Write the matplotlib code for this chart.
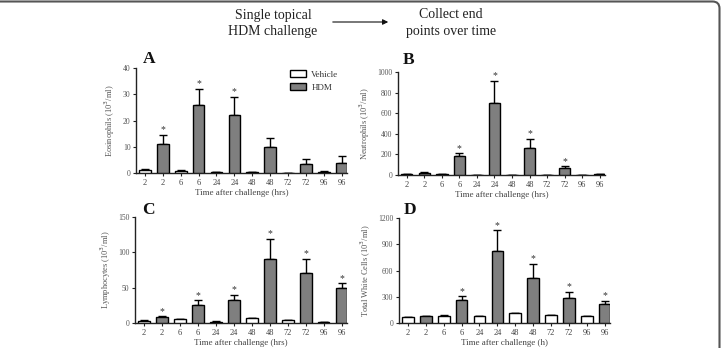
import numpy as np
import matplotlib
matplotlib.use('Agg')
import matplotlib.pyplot as plt
from matplotlib.patches import FancyBboxPatch, FancyArrowPatch, Patch
from matplotlib.transforms import IdentityTransform

plt.rcParams['font.family'] = ['Liberation Serif', 'DejaVu Serif']

# x tick labels: vehicle / HDM alternate at each time point
tick_labels = ['2', '2', '6', '6', '24', '24', '48', '48', '72', '72', '96', '96']
is_hdm = [False, True] * 6

# means and upper SEM for each bar (vehicle, HDM, vehicle, HDM ...)
eos_mean = [1.2, 11, 0.8, 26, 0.3, 22, 0.3, 9.8, 0, 3.5, 0.5, 4]
eos_err = [0.3, 3.5, 0.3, 6, 0.1, 7, 0.1, 3.5, 0, 1.8, 0.4, 2.5]
eos_star = [1, 3, 5]

neu_mean = [5, 20, 5, 180, 2, 700, 3, 260, 0, 65, 2, 10]
neu_err = [2, 6, 2, 30, 1, 215, 1, 90, 0, 20, 1, 3]
neu_star = [3, 5, 7, 9]

lym_mean = [3.5, 8, 5.5, 26, 2, 32, 6.5, 91, 4, 71, 1.5, 49]
lym_err = [0.5, 1.5, 0.8, 6, 0.3, 8, 1, 28, 0.6, 20, 0.3, 7]
lym_star = [1, 3, 5, 7, 9, 11]

wbc_mean = [65, 80, 80, 260, 75, 820, 110, 520, 90, 285, 80, 220]
wbc_err = [5, 5, 6, 45, 4, 240, 8, 160, 5, 75, 4, 30]
wbc_star = [3, 5, 7, 9, 11]

panels = [
    ('A', [136, 68, 347, 173], (0.033, 0.048), eos_mean, eos_err, eos_star, 40, [0, 10, 20, 30, 40],
     'Eosinophils (10$^3$/ml)', 'Time after challenge (hrs)'),
    ('B', [398, 72, 605, 175], (0.024, 0.078), neu_mean, neu_err, neu_star, 1000,
     [0, 200, 400, 600, 800, 1000], 'Neutrophils (10$^3$/ml)', 'Time after challenge (hrs)'),
    ('C', [135, 217, 347, 323], (0.033, 0.028), lym_mean, lym_err, lym_star, 150, [0, 50, 100, 150],
     'Lymphocytes (10$^3$/ml)', 'Time after challenge (hrs)'),
    ('D', [399, 218, 610, 323], (0.02, 0.038), wbc_mean, wbc_err, wbc_star, 1200,
     [0, 300, 600, 900, 1200], 'Total White Cells (10$^3$/ml)', 'Time after challenge (h)'),
]

W, H = 721, 348
fig = plt.figure(figsize=(W / 100, H / 100), dpi=100)

x = np.arange(12)
for letter, (x0, y0, x1, y1), lpos, mean, err, stars, ymax, yticks, ylab, xlab in panels:
    ax = fig.add_axes([x0 / W, 1 - y1 / H, (x1 - x0) / W, (y1 - y0) / H])
    colors = ['#7f7f7f' if h else 'white' for h in is_hdm]
    ax.bar(x, mean, width=0.65, color=colors, edgecolor='black', linewidth=1.0, zorder=3)
    ax.errorbar(x, mean, yerr=[np.zeros(12), err], fmt='none', ecolor='black',
                elinewidth=1.0, capsize=3, capthick=1.0, zorder=2)
    for i in stars:
        ax.text(x[i], mean[i] + err[i] + ymax * 0.005, '*', ha='center', va='bottom',
                fontsize=7, color='#333333')
    ax.set_xlim(-0.5, 11.3)
    ax.set_ylim(0, ymax)
    ax.set_yticks(yticks)
    ax.set_xticks(x)
    ax.set_xticklabels(tick_labels)
    for s in ['top', 'right']:
        ax.spines[s].set_visible(False)
    for s in ['left', 'bottom']:
        ax.spines[s].set_linewidth(1.0)
        ax.spines[s].set_color('#222222')
    ax.tick_params(axis='both', labelsize=6, colors='#222222', length=2.5, width=0.8, pad=1.5)
    for lbl in ax.get_yticklabels():
        lbl.set_color('#555555')
        lbl.set_fontsize(5.5)
    for lbl in ax.get_xticklabels():
        lbl.set_color('#444444')
    ax.set_ylabel(ylab, fontsize=6, color='#555555', labelpad=4)
    ax.set_xlabel(xlab, fontsize=6.5, color='#444444', labelpad=2)
    ax.text(lpos[0], 1 + lpos[1], letter, transform=ax.transAxes, fontsize=12.5,
            fontweight='bold', ha='left', va='baseline', color='#111111')
    if letter == 'A':
        handles = [Patch(facecolor='white', edgecolor='black', linewidth=1.0, label='Vehicle'),
                   Patch(facecolor='#7f7f7f', edgecolor='black', linewidth=1.0, label='HDM')]
        leg = ax.legend(handles=handles, loc='upper left', bbox_to_anchor=(0.69, 1.06),
                        frameon=False, fontsize=6.5, handlelength=1.8, handleheight=0.9,
                        labelspacing=0.45, handletextpad=0.6)
        for t in leg.get_texts():
            t.set_color('#333333')

# header text and arrow
hdr = dict(ha='center', va='center', fontsize=10, color='#222222')
fig.text(273 / W, 1 - 15 / H, 'Single topical', **hdr)
fig.text(273 / W, 1 - 32 / H, 'HDM challenge', **hdr)
fig.text(451 / W, 1 - 15 / H, 'Collect end', **hdr)
fig.text(451 / W, 1 - 32 / H, 'points over time', **hdr)
arrow = FancyArrowPatch((330 / W, 1 - 22 / H), (391 / W, 1 - 22 / H), transform=fig.transFigure,
                        arrowstyle='-|>', mutation_scale=8, color='#111111', linewidth=0.8)
fig.patches.append(arrow)

# outer frame (only top and right edges visible)
frame = FancyBboxPatch((-20, -20), 739.5, 366.5, boxstyle='round,pad=0,rounding_size=7',
                       transform=IdentityTransform(), facecolor='none', edgecolor='#555555',
                       linewidth=1.5)
fig.patches.append(frame)

fig.savefig('out.png', dpi=100)
